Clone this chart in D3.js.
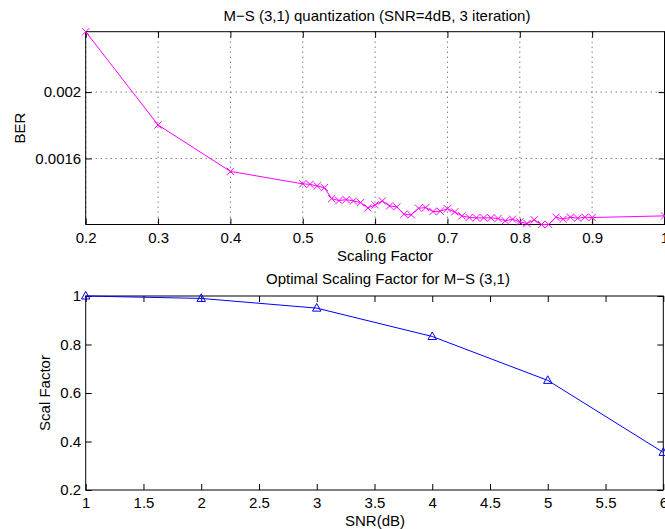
<!DOCTYPE html>
<html>
<head>
<meta charset="utf-8">
<script src="https://cdn.jsdelivr.net/npm/d3@7"></script>
<style>
  body { margin: 0; background: #fff; }
  svg { display: block; font-family: "Liberation Sans", Arial, sans-serif; }
  .tick text { font-size: 15px; fill: #000; }
</style>
</head>
<body>
<div id="chart"></div>
<script>
// top panel: BER vs scaling factor
const berX = [0.2, 0.3, 0.4,
  0.50, 0.51, 0.52, 0.53, 0.54, 0.55, 0.56, 0.57, 0.58, 0.59,
  0.60, 0.61, 0.62, 0.63, 0.64, 0.65, 0.66, 0.67, 0.68, 0.69,
  0.70, 0.71, 0.72, 0.73, 0.74, 0.75, 0.76, 0.77, 0.78, 0.79,
  0.80, 0.81, 0.82, 0.83, 0.84, 0.85, 0.86, 0.87, 0.88, 0.89,
  0.90, 1.0];
const berY = [0.002364, 0.001802, 0.001522,
  0.001447, 0.001444, 0.001434, 0.001424, 0.001358, 0.001346, 0.001352, 0.001344, 0.001334, 0.001302,
  0.001320, 0.001344, 0.001314, 0.001308, 0.001264, 0.001260, 0.001300, 0.001304, 0.001280, 0.001282,
  0.001297, 0.001278, 0.001254, 0.001244, 0.001242, 0.001242, 0.001242, 0.001238, 0.001224, 0.001234,
  0.001218, 0.001208, 0.001230, 0.001202, 0.001202, 0.001246, 0.001234, 0.001246, 0.001240, 0.001246,
  0.001244, 0.001254];
const berXTicks = [0.2, 0.3, 0.4, 0.5, 0.6, 0.7, 0.8, 0.9, 1];
const berYTicks = [0.0016, 0.002];

// bottom panel: optimal scaling factor vs SNR
const snr = [1, 2, 3, 4, 5, 6];
const scal = [1.0, 0.99, 0.95, 0.833, 0.652, 0.355];
const snrTicks = [1, 1.5, 2, 2.5, 3, 3.5, 4, 4.5, 5, 5.5, 6];
const scalTicks = [0.2, 0.4, 0.6, 0.8, 1];

const w = 665, h = 529;
const svg = d3.select("#chart").append("svg")
  .attr("width", w).attr("height", h);

function panel(opt) {
  const g = svg.append("g");
  const x = opt.x, y = opt.y;
  const [x0, x1] = x.range(), [y0, y1] = y.range();

  if (opt.grid) {
    g.append("g").selectAll("line.gx").data(opt.xt).join("line")
      .attr("x1", d => x(d)).attr("x2", d => x(d))
      .attr("y1", y1).attr("y2", y0)
      .attr("stroke", "#444").attr("stroke-width", 1)
      .attr("stroke-dasharray", "1,4");
    g.append("g").selectAll("line.gy").data(opt.yt).join("line")
      .attr("x1", x0).attr("x2", x1)
      .attr("y1", d => y(d)).attr("y2", d => y(d))
      .attr("stroke", "#444").attr("stroke-width", 1)
      .attr("stroke-dasharray", "1,4");
  }

  const ax = (a) => a.call(s => s.select(".domain").remove())
    .call(s => s.selectAll(".tick line").attr("stroke", "#000"));

  g.append("g").attr("transform", `translate(0,${y0})`)
    .call(d3.axisBottom(x).tickValues(opt.xt).tickFormat(opt.xf).tickSize(-6).tickPadding(7.5))
    .call(ax);
  g.append("g").attr("transform", `translate(0,${y1})`)
    .call(d3.axisTop(x).tickValues(opt.xt).tickFormat("").tickSize(-6))
    .call(ax);
  g.append("g").attr("transform", `translate(${x0},0)`)
    .call(d3.axisLeft(y).tickValues(opt.yt).tickFormat(opt.yf).tickSize(-6).tickPadding(4.5))
    .call(ax);
  g.append("g").attr("transform", `translate(${x1},0)`)
    .call(d3.axisRight(y).tickValues(opt.yt).tickFormat("").tickSize(-6))
    .call(ax);

  g.append("rect")
    .attr("x", x0).attr("y", y1)
    .attr("width", x1 - x0).attr("height", y0 - y1)
    .attr("fill", "none").attr("stroke", "#000").attr("stroke-width", 1);

  const pts = opt.xs.map((v, i) => [v, opt.ys[i]]);
  g.append("path").datum(pts)
    .attr("fill", "none").attr("stroke", opt.color).attr("stroke-width", 1)
    .attr("d", d3.line().x(d => x(d[0])).y(d => y(d[1])));

  const m = g.append("g").selectAll("path.m").data(pts).join("path")
    .attr("transform", d => `translate(${x(d[0])},${y(d[1])})`)
    .attr("fill", "none").attr("stroke", opt.color).attr("stroke-width", 1);
  if (opt.marker === "x") {
    m.attr("d", "M-3.6,-3.6L3.6,3.6M-3.6,3.6L3.6,-3.6");
  } else {
    m.attr("d", "M0,-4.6L4.2,3L-4.2,3Z");
  }
  return g;
}

function text(str, tx, ty, anchor, rot) {
  svg.append("text")
    .attr("transform", `translate(${tx},${ty})` + (rot ? " rotate(-90)" : ""))
    .attr("text-anchor", anchor || "middle")
    .attr("font-size", 15).attr("fill", "#000")
    .text(str);
}

// top
const xTop = d3.scaleLinear().domain([0.2, 1]).range([85.7, 664.5]);
const yTop = d3.scaleLinear().domain(d3.extent(berY)).range([224.5, 31.7]);
panel({
  x: xTop, y: yTop, xt: berXTicks, yt: berYTicks,
  xf: d => d === 1 ? "1" : d3.format(".1f")(d),
  yf: d => d === 0.002 ? "0.002" : "0.0016",
  xs: berX, ys: berY, color: "#ff00ff", marker: "x", grid: true
});
text("M\u2212S (3,1) quantization (SNR=4dB, 3 iteration)", 377, 20.7);
text("Scaling Factor", 385, 261);
text("BER", 24.5, 128, "middle", true);

// bottom
const xBot = d3.scaleLinear().domain([1, 6]).range([85.7, 663.3]);
const yBot = d3.scaleLinear().domain([0.2, 1]).range([490, 296]);
panel({
  x: xBot, y: yBot, xt: snrTicks, yt: scalTicks,
  xf: d => String(d),
  yf: d => String(d),
  xs: snr, ys: scal, color: "#0000ff", marker: "tri", grid: false
});
text("Optimal Scaling Factor for M\u2212S (3,1)", 388, 284);
text("SNR(dB)", 375, 525.5);
text("Scal Factor", 49.5, 393, "middle", true);
</script>
</body>
</html>
